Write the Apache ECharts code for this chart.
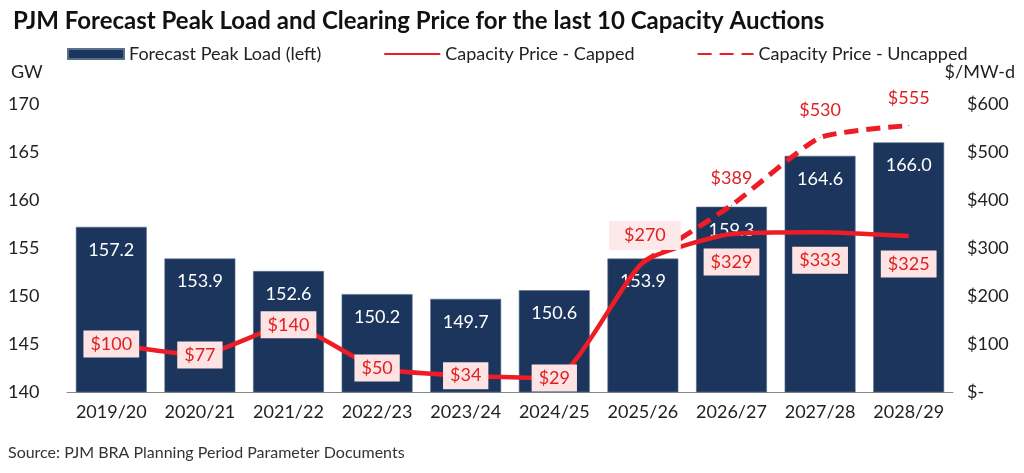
<!DOCTYPE html>
<html>
<head>
<meta charset="utf-8">
<script src="https://cdn.jsdelivr.net/npm/echarts@6/dist/echarts.min.js"></script>
<style>
  html, body { margin: 0; padding: 0; background: #fff; }
  #chart { width: 1024px; height: 473px; }
</style>
</head>
<body>
<div id="chart"></div>
<script>
var auctions = ['2019/20', '2020/21', '2021/22', '2022/23', '2023/24', '2024/25', '2025/26', '2026/27', '2027/28', '2028/29'];
var peakLoad = [157.2, 153.9, 152.6, 150.2, 149.7, 150.6, 153.9, 159.3, 164.6, 166.0];
var priceCapped = [100, 77, 140, 50, 34, 29, 270, 329, 333, 325];
var priceUncapped = [null, null, null, null, null, null, 270, 389, 530, 555];

var FONT = 'Lato';
var RED = '#ee1c25';
var NAVY = '#1b355c';

var myChart = echarts.init(document.querySelector('#chart'));

// capped labels: boxed, centred on the point; later ones pushed off the line
var cappedData = priceCapped.map(function (v, i) {
	var lbl = {
		show: true,
		position: 'inside',
		formatter: '$' + v,
		color: '#e02020',
		fontFamily: FONT,
		fontSize: 18,
		backgroundColor: '#fde3e3',
		padding: [5, 7, 4, 7]
	};
	if (i == 6) {
		lbl.offset = [2, -27];
		lbl.backgroundColor = '#fde9e9';
		lbl.padding = [6, 15, 5, 15];
	} else if (i > 6) {
		lbl.offset = [0, 28];
	}
	return { value: v, label: lbl };
});

var uncappedData = priceUncapped.map(function (v, i) {
	if (v == null || i == 6) return v;
	return {
		value: v,
		label: {
			show: true,
			position: 'top',
			distance: 18,
			formatter: '$' + v,
			color: '#e02020',
			fontFamily: FONT,
			fontSize: 18
		}
	};
});

var option = {
	animation: false,
	textStyle: { fontFamily: FONT },
	title: {
		text: 'PJM Forecast Peak Load and Clearing Price for the last 10 Capacity Auctions',
		left: 8,
		top: 4,
		textStyle: { fontFamily: FONT, fontWeight: 'bold', fontSize: 24, color: '#111' }
	},
	legend: {
		top: 40,
		left: 62,
		itemWidth: 56,
		itemHeight: 10,
		itemGap: 62,
		textStyle: { fontFamily: FONT, fontSize: 18, color: '#222' },
		data: [
			{ name: 'Forecast Peak Load (left)', icon: 'rect' },
			{ name: 'Capacity Price - Capped', itemStyle: { opacity: 0 } },
			{ name: 'Capacity Price - Uncapped', itemStyle: { opacity: 0 } }
		]
	},
	graphic: [
		{ type: 'text', left: 11, top: 63, style: { text: 'GW', fontFamily: FONT, fontSize: 18, fill: '#222' } },
		{ type: 'text', right: 9, top: 63, style: { text: '$/MW-d', fontFamily: FONT, fontSize: 18, fill: '#222' } },
		{ type: 'text', left: 8, top: 445, style: { text: 'Source: PJM BRA Planning Period Parameter Documents', fontFamily: FONT, fontSize: 16, fill: '#333' } }
	],
	grid: { left: 67, right: 71, top: 104, bottom: 81, containLabel: false },
	xAxis: {
		type: 'category',
		data: auctions,
		axisTick: { show: false },
		axisLine: { lineStyle: { color: '#888', width: 1 } },
		axisLabel: { interval: 0, fontFamily: FONT, fontSize: 18, color: '#222', margin: 11 }
	},
	yAxis: [
		{
			type: 'value',
			min: 140,
			max: 170,
			interval: 5,
			splitLine: { show: false },
			axisLine: { show: false },
			axisTick: { show: false },
			axisLabel: { fontFamily: FONT, fontSize: 18, color: '#222', align: 'left', margin: 59 }
		},
		{
			type: 'value',
			min: 0,
			max: 600,
			interval: 100,
			splitLine: { show: false },
			axisLine: { show: false },
			axisTick: { show: false },
			axisLabel: {
				fontFamily: FONT, fontSize: 18, color: '#222', align: 'left', margin: 14,
				formatter: function (v) { return v === 0 ? '$-' : '$' + v; }
			}
		}
	],
	series: [
		{
			name: 'Forecast Peak Load (left)',
			type: 'bar',
			yAxisIndex: 0,
			data: peakLoad,
			barCategoryGap: '20%',
			itemStyle: { color: NAVY, borderColor: '#5a6f8f', borderWidth: 0.6 },
			label: {
				show: true,
				position: 'insideTop',
				distance: 14,
				color: '#fff',
				fontFamily: FONT,
				fontSize: 18,
				formatter: function (p) { return p.value.toFixed(1); }
			}
		},
		{
			name: 'Capacity Price - Capped',
			type: 'line',
			yAxisIndex: 1,
			data: cappedData,
			smooth: 0.18,
			symbol: 'circle',
			symbolSize: 1,
			lineStyle: { color: RED, width: 4.5 },
			itemStyle: { color: RED },
			z: 5
		},
		{
			name: 'Capacity Price - Uncapped',
			type: 'line',
			yAxisIndex: 1,
			data: uncappedData,
			smooth: 0.18,
			symbol: 'circle',
			symbolSize: 1,
			connectNulls: false,
			lineStyle: { color: RED, width: 5, type: [14, 8] },
			itemStyle: { color: RED },
			z: 4
		}
	]
};

myChart.setOption(option);
</script>
</body>
</html>
